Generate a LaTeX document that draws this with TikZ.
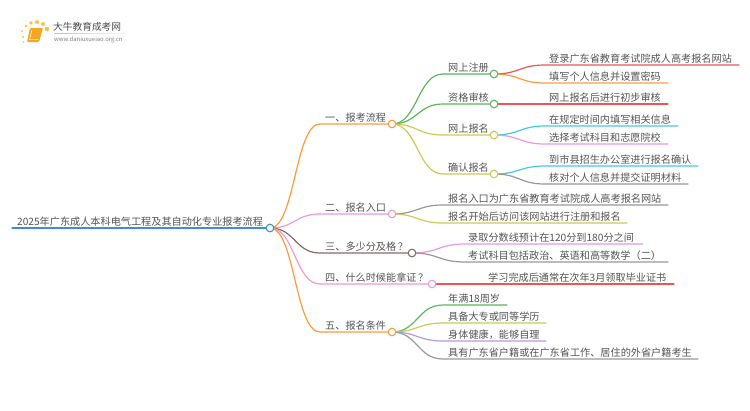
\documentclass[tikz,border=0pt]{standalone}
\usepackage{fontspec}
\setmainfont{Noto Sans CJK SC}[Scale=1]
\usetikzlibrary{calc,backgrounds}
\definecolor{tc}{HTML}{555555}
\definecolor{cO}{HTML}{FF9A3C}
\definecolor{cG}{HTML}{5CB85C}
\definecolor{cY}{HTML}{CCCC55}
\definecolor{cP}{HTML}{EE99DD}
\definecolor{cB}{HTML}{8B6B62}
\definecolor{cR}{HTML}{EE5555}
\definecolor{cC}{HTML}{44CCDD}
\definecolor{cA}{HTML}{999999}
\definecolor{cV}{HTML}{BB99DD}
\definecolor{cRoot}{HTML}{3D8FD1}
\definecolor{cLogo}{HTML}{F5A623}
\tikzset{
 x=1bp,y=-1bp,
 lbl/.style={font=\fontsize{10.15bp}{12bp}\selectfont,text=tc,inner sep=0pt,anchor=base west},
 dot/.style={circle,draw=#1,fill=white,line width=1.1bp,minimum size=7.6bp,inner sep=0pt},
 edge/.style={draw=#1,line width=1.2bp,line cap=round},
}
\newcommand{\curv}[4]{% colour, from node, bend end x, end coordinate
 \draw[edge=#1] let \p1=(#2.center), \p2=(#3 |- #4), \n1={0.5*\x1+0.5*\x2} in
   (\p1) .. controls (\n1,\y1) and (\n1,\y2) .. (\p2) -- (#4);}
\begin{document}
\begin{tikzpicture}
\useasboundingbox (0,0) rectangle (750,410);
% logo
\foreach \a/\b/\r in {22/31/1.0,23/37/1.1,23.5/42/0.8,26/26/1.4,31/23/1.8,37/22/2.0,43/24/2.0,47/29/2.3}
  \fill[cLogo!85!yellow,opacity=.8] (\a,\b) circle (\r);
\fill[cLogo,rounded corners=1bp] (30,28) -- (43,28) -- (39,42) -- (27,42) -- cycle;
\draw[white,line width=.5bp] (32,30) -- (29.5,39.5) -- (38,39.5);
\fill[left color=black!25,right color=white] (54,33) rectangle (133,33.6);
\node[lbl,font=\fontsize{9.7bp}{11bp}\selectfont,text=black!70] (logoA) at (53,30) {大牛教育成考网};
\node[lbl,font=\fontsize{5.9bp}{7bp}\selectfont,text=black!50] (logoB) at (54,41) {www.daniuxueiao.org.cn};
% coordinates
\coordinate (bx1) at (320,0);
\coordinate (bx2) at (443,0);
\coordinate (bx3) at (465,0);
\coordinate (bx4) at (545,0);
% root
\coordinate (rs) at (12,228);
\node[dot=cRoot] (root) at (270,228) {};
% level 1 dots
\node[dot=cO] (a) at (392,124) {};
\node[dot=cP] (b) at (392,214) {};
\node[dot=cB] (c) at (412,253) {};
\node[dot=cP] (d) at (432,284) {};
\node[dot=cO] (e) at (392,332) {};
% level 2 dots
\node[dot=cG] (a1) at (494,74) {};
\node[dot=cG] (a2) at (494,104) {};
\node[dot=cY] (a3) at (494,135) {};
\node[dot=cY] (a4) at (494,174) {};
% leaf ends
\coordinate (l1) at (739,65); \coordinate (l2) at (668,83);
\coordinate (l3) at (668,104);
\coordinate (l4) at (678,126); \coordinate (l5) at (668,144);
\coordinate (l6) at (698,166); \coordinate (l7) at (688,184);
\coordinate (m1) at (668,205); \coordinate (m2) at (627,223);
\coordinate (n1) at (643,244); \coordinate (n2) at (668,262);
\coordinate (o1) at (674,284);
\coordinate (p1) at (507,305); \coordinate (p2) at (546,323);
\coordinate (p3) at (546,341); \coordinate (p4) at (698,359);
% connectors
\begin{scope}[on background layer]
\fill[white] (0,0) rectangle (750,410);
\draw[edge=cRoot] (rs) -- (root);
\curv{cO}{root}{bx1}{a}
\curv{cP}{root}{bx1}{b}
\curv{cB}{root}{bx1}{c}
\curv{cP}{root}{bx1}{d}
\curv{cO}{root}{bx1}{e}
\curv{cG}{a}{bx2}{a1}
\curv{cG}{a}{bx2}{a2}
\curv{cY}{a}{bx2}{a3}
\curv{cY}{a}{bx2}{a4}
\curv{cR}{a1}{bx4}{l1}
\curv{cO}{a1}{bx4}{l2}
\draw[edge=cR] (a2) -- (l3);
\curv{cC}{a3}{bx4}{l4}
\curv{cP}{a3}{bx4}{l5}
\curv{cC}{a4}{bx4}{l6}
\curv{cA}{a4}{bx4}{l7}
\curv{cA}{b}{bx2}{m1}
\curv{cY}{b}{bx2}{m2}
\curv{cP}{c}{bx3}{n1}
\curv{cA}{c}{bx3}{n2}
\draw[edge=cR] (d) -- (o1);
\curv{cG}{e}{bx2}{p1}
\curv{cY}{e}{bx2}{p2}
\curv{cV}{e}{bx2}{p3}
\curv{cA}{e}{bx2}{p4}
\end{scope}
% labels
\node[lbl] (t0) at (17,225) {2025年广东成人本科电气工程及其自动化专业报考流程};
\node[lbl] (t1) at (325,121) {一、报考流程};
\node[lbl] (t2) at (325,211) {二、报名入口};
\node[lbl] (t3) at (325,250) {三、多少分及格\,？};
\node[lbl] (t4) at (325,281) {四、什么时候能拿证\,？};
\node[lbl] (t5) at (325,329) {五、报名条件};
\node[lbl] (t11) at (448,71) {网上注册};
\node[lbl] (t12) at (448,101) {资格审核};
\node[lbl] (t13) at (448,132) {网上报名};
\node[lbl] (t14) at (448,171) {确认报名};
\node[lbl] (u1) at (549,62) {登录广东省教育考试院成人高考报名网站};
\node[lbl] (u2) at (549,80) {填写个人信息并设置密码};
\node[lbl] (u3) at (549,101) {网上报名后进行初步审核};
\node[lbl] (u4) at (549,123) {在规定时间内填写相关信息};
\node[lbl] (u5) at (549,141) {选择考试科目和志愿院校};
\node[lbl] (u6) at (549,163) {到市县招生办公室进行报名确认};
\node[lbl] (u7) at (549,181) {核对个人信息并提交证明材料};
\node[lbl] (v1) at (448,202) {报名入口为广东省教育考试院成人高考报名网站};
\node[lbl] (v2) at (448,220) {报名开始后访问该网站进行注册和报名};
\node[lbl] (w1) at (468,241) {录取分数线预计在120分到180分之间};
\node[lbl] (w2) at (468,259) {考试科目包括政治、英语和高等数学（二）};
\node[lbl] (x1) at (488,281) {学习完成后通常在次年3月领取毕业证书};
\node[lbl] (y1) at (448,302) {年满18周岁};
\node[lbl] (y2) at (448,320) {具备大专或同等学历};
\node[lbl] (y3) at (448,338) {身体健康，能够自理};
\node[lbl] (y4) at (448,356) {具有广东省户籍或在广东省工作、居住的外省户籍考生};
\end{tikzpicture}
\end{document}
